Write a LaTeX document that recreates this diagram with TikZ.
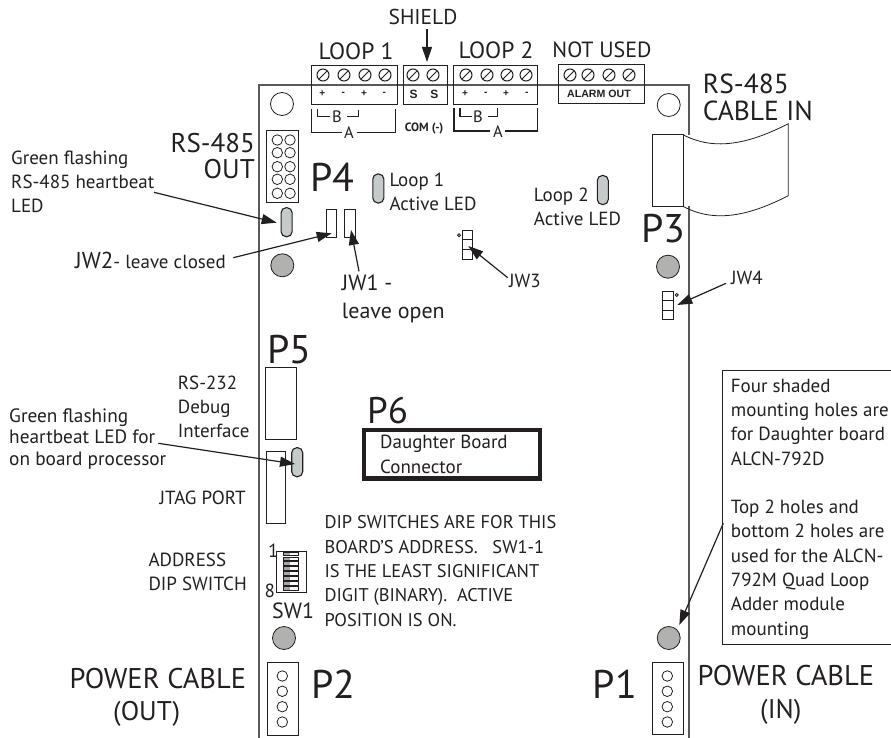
\documentclass[tikz,border=0pt]{standalone}
\usepackage{fontspec}
\setmainfont{PT Sans}
\newfontfamily\arialfont{Liberation Sans}
\usetikzlibrary{arrows.meta,positioning}
\definecolor{ink}{HTML}{231F20}
\definecolor{boardline}{HTML}{58595B}
\definecolor{ledfill}{HTML}{C4CBCA}
\definecolor{holefill}{HTML}{B1B1AF}
\tikzset{
  part/.style={draw=ink, line width=0.8pt, inner sep=0pt, outer sep=0pt},
  led/.style={part, fill=ledfill, line width=1.1pt, rounded corners=5pt, minimum width=11pt, minimum height=29pt},
  hole/.style={circle, draw=ink, line width=0.8pt, inner sep=0pt, outer sep=0pt, minimum size=23pt},
  pin/.style={circle, draw=ink, line width=0.8pt, inner sep=0pt, minimum size=10.5pt},
  jumper/.style={part, minimum width=10.6pt, minimum height=28.4pt},
  terminal/.style={part, minimum height=39pt},
  txt/.style={text=ink, inner sep=0pt, anchor=west, align=left, font=\fontsize{19}{24.3}\selectfont},
  bigtxt/.style={text=ink, inner sep=0pt, font=\fontsize{23.5}{26}\selectfont},
  portname/.style={text=ink, inner sep=0pt, font=\fontsize{40}{42}\selectfont},
  polarity/.style={text=ink, inner sep=0pt, font=\arialfont\bfseries\fontsize{10}{10}\selectfont},
  bracket/.style={draw=ink, line width=1.5pt},
  pointer/.style={draw=ink, line width=1.2pt, -{Triangle[length=15pt,width=10pt]}},
}
\begin{document}
\begin{tikzpicture}[x=1pt, y=-1pt]
    \useasboundingbox (0,0) rectangle (891,738);

    % board outline
    \coordinate (boardtl) at (259,85);
    \coordinate (boardtr) at (689,85);
    \coordinate (boardbl) at (259,738);
    \coordinate (boardbr) at (689,738);
    \coordinate (boardgap) at (689,134.7);
    \coordinate (boardgapend) at (689,206.3);
    \draw [boardline, line width=1.2pt] (boardbl) -- (boardtl) -- (boardtr) -- (boardgap);
    \draw [boardline, line width=1.2pt] (boardgapend) -- (boardbr);

    % terminal blocks
    \node [terminal, minimum width=86pt] (loopA) at (354,84.5) {};
    \node [terminal, minimum width=43.5pt, right=6.5pt of loopA] (shieldbox) {};
    \node [terminal, minimum width=84pt, right=6pt of shieldbox] (loopB) {};
    \node [terminal, minimum width=86pt] (alarm) at (601,83.5) {};
    \foreach \x in {323,344,365,385,413,433,466,487,507,526,570,588,609,629} {
        \draw [ink, line width=1pt] (\x,75) circle (6);
        \draw [ink, line width=1pt] (\x-4.2,79.2) -- (\x+4.2,70.8);
    }
    \foreach \x/\s in {322.3/+,343.3/-,364/+,384.3/-,465/+,485.7/-,506/+,526.7/-}
        \node [polarity] at (\x,94) {\s};
    \node [polarity, font=\arialfont\bfseries\fontsize{12}{12}\selectfont] (s1) at (413.7,94) {S};
    \node [polarity, font=\arialfont\bfseries\fontsize{12}{12}\selectfont] (s2) at (434.3,94) {S};
    \node [polarity, font=\arialfont\bfseries\fontsize{10.6}{11}\selectfont] (alarmout) at (599,94) {ALARM OUT};

    \node [bigtxt] (loop1lbl) at (356,51) {LOOP 1};
    \node [bigtxt] (loop2lbl) at (496,50) {LOOP 2};
    \node [bigtxt, font=\fontsize{22}{26}\selectfont] (notused) at (602,50) {NOT USED};
    \node [bigtxt, font=\fontsize{21.5}{26}\selectfont] (shield) at (423,17) {SHIELD};
    \coordinate (shieldtail) at (427,29);
    \coordinate (shieldtip) at (427,62);
    \draw [pointer] (shieldtail) -- (shieldtip);

    % B and A brackets
    \node [text=ink, inner sep=0pt, font=\fontsize{16.5}{16}\selectfont] (b1) at (337,117) {B};
    \node [text=ink, inner sep=0pt, font=\fontsize{16.5}{16}\selectfont] (a1) at (349,133) {A};
    \node [text=ink, inner sep=0pt, font=\fontsize{16.5}{16}\selectfont] (b2) at (478,117) {B};
    \node [text=ink, inner sep=0pt, font=\fontsize{16.5}{16}\selectfont] (a2) at (498,132) {A};
    \draw [bracket] (317.3,109) -- (317.3,116.3) -- (330,116.3);
    \draw [bracket] (347,116.3) -- (358.7,116.3) -- (358.7,110);
    \draw [bracket] (311.7,109) -- (311.7,132.3) -- (341.7,132.3);
    \draw [bracket] (356.7,132.3) -- (395.7,132.3) -- (395.7,109);
    \draw [bracket] (460,108) -- (460,116.3) -- (471.7,116.3);
    \draw [bracket] (488,116.3) -- (497.7,116.3) -- (497.7,108);
    \draw [bracket] (454,108) -- (454,131) -- (490,131);
    \draw [bracket] (505,131) -- (537.7,131) -- (537.7,108);
    \node [text=ink, inner sep=0pt, font=\bfseries\fontsize{12}{12}\selectfont] (com) at (424,129) {COM (-)};

    % mounting holes
    \node [hole] (holeTL) at (282,104) {};
    \node [hole] (holeTR) at (668.7,105) {};
    \node [hole, fill=holefill] (holeA) at (282.3,265.3) {};
    \node [hole, fill=holefill] (holeB) at (668,266.7) {};
    \node [hole, fill=holefill] (holeC) at (284,638) {};
    \node [hole, fill=holefill] (holeD) at (668.7,638) {};

    % P4 header
    \node [part, minimum width=31.3pt, minimum height=72pt] (p4hdr) at (282.3,166.7) {};
    \foreach \y in {140,152.7,166.7,179.3,193.3} {
        \node [pin] at (277.3,\y) {};
        \node [pin] at (290,\y) {};
    }
    \node [bigtxt, anchor=east, font=\fontsize{27}{27}\selectfont] (rsout) at (255,143) {RS-485};
    \node [bigtxt, anchor=east, font=\fontsize{27}{27}\selectfont] (rsoutb) at (255,169) {OUT};
    \node [portname, anchor=west] (p4) at (310,177) {P4};

    % LEDs and jumpers
    \node [led] (hbled) at (286.6,222.2) {};
    \node [led] (loop1led) at (378.3,188.5) {};
    \node [led] (loop2led) at (602.8,190) {};
    \node [led] (cpuled) at (297.2,462.2) {};
    \node [jumper] (jw2) at (331.5,223.5) {};
    \node [jumper] (jw1) at (350,223.5) {};
    \node [jumper] (jw3) at (467.3,245) {};
    \node [jumper] (jw4) at (668,305.5) {};
    \draw [ink, line width=0.8pt] (jw3.west |- 0,239.7) -- (jw3.east |- 0,239.7);
    \draw [ink, line width=0.8pt] (jw3.west |- 0,249.3) -- (jw3.east |- 0,249.3);
    \draw [ink, line width=0.8pt] (jw4.west |- 0,300.7) -- (jw4.east |- 0,300.7);
    \draw [ink, line width=0.8pt] (jw4.west |- 0,310) -- (jw4.east |- 0,310);
    \draw [ink, line width=0.9pt] (459,235.3) circle (1.5);
    \draw [ink, line width=0.9pt] (676.7,295) circle (1.5);

    % labels round the top half
    \node [txt] (hblbl) at (11,182) {Green flashing\\RS-485 heartbeat\\LED};
    \node [txt] (jw2lbl) at (75,260) {\fontsize{23}{24}\selectfont JW2\fontsize{19}{24}\selectfont- leave closed};
    \node [txt, font=\fontsize{22}{27.7}\selectfont] (jw1lbl) at (341.7,299) {JW1 -\\leave open};
    \node [txt] (loop1txt) at (389.3,191.5) {Loop 1\\Active LED};
    \node [txt] (loop2txt) at (533.7,207) {Loop 2\\Active LED};
    \node [txt] (jw3lbl) at (509,280.7) {JW3};
    \node [txt] (jw4lbl) at (731,278.3) {JW4};

    \coordinate (hbtail) at (154,192.3);
    \coordinate (hbtip) at (276.7,222.7);
    \coordinate (jw2tail) at (233.3,257.7);
    \coordinate (jw2tip) at (331.7,233.3);
    \coordinate (jw1tail) at (359,271.3);
    \coordinate (jw1tip) at (351,230);
    \coordinate (jw3tail) at (507.7,277.7);
    \coordinate (jw3tip) at (468.3,246);
    \coordinate (jw4tail) at (726,283.3);
    \coordinate (jw4tip) at (677.3,305);
    \draw [pointer] (hbtail) -- (hbtip);
    \draw [pointer] (jw2tail) -- (jw2tip);
    \draw [pointer] (jw1tail) -- (jw1tip);
    \draw [pointer] (jw3tail) -- (jw3tip);
    \draw [pointer] (jw4tail) -- (jw4tip);

    % cable in
    \node [part, minimum width=31pt, minimum height=71.6pt] (p3conn) at (667.5,170.5) {};
    \coordinate (ribbonend) at (788.3,123.7);
    \coordinate (ribbonlow) at (788.3,195.7);
    \draw [ink, line width=0.8pt] (p3conn.north east) .. controls (712,150) and (745,146) .. (ribbonend) -- (ribbonlow) .. controls (745,218) and (712,222) .. (p3conn.south east);
    \node [portname, anchor=west] (p3) at (641,229) {P3};
    \node [bigtxt, anchor=west, font=\fontsize{27.5}{27}\selectfont] (rsin) at (702.7,84.3) {RS-485};
    \node [bigtxt, anchor=west, font=\fontsize{27.5}{27}\selectfont] (cablein) at (702.7,111) {CABLE IN};

    % P5, JTAG and the left column
    \node [part, minimum width=31pt, minimum height=71.6pt] (p5conn) at (281.2,403.5) {};
    \node [part, minimum width=19.7pt, minimum height=72pt] (jtag) at (275.9,487.3) {};
    \node [portname, anchor=west] (p5) at (267,350) {P5};
    \node [txt] (rs232) at (177.7,407) {RS-232\\Debug\\Interface};
    \node [txt, font=\fontsize{19.3}{21.5}\selectfont] (cpulbl) at (9,439) {Green flashing\\heartbeat LED for\\on board processor};
    \node [txt] (jtaglbl) at (159.3,497.7) {JTAG PORT};
    \coordinate (cputail) at (158.3,443.3);
    \coordinate (cputip) at (295,464);
    \draw [pointer] (cputail) -- (cputip);

    % DIP switch
    \node [part, minimum width=29.7pt, minimum height=41.7pt] (dip) at (291.2,571.8) {};
    \foreach \n in {0,...,7} {
        \fill [ink!40] (283.7,552+4.9*\n) rectangle (289.7,555.6+4.9*\n);
        \draw [ink, line width=0.7pt] (283.7,552+4.9*\n) rectangle (298.7,555.6+4.9*\n);
    }
    \node [txt] (dipone) at (268,551) {1};
    \node [txt] (dipeight) at (264.5,591) {8};
    \node [txt, font=\fontsize{22}{22}\selectfont] (sw1) at (272,610.7) {SW1};
    \node [txt] (addrlbl) at (148.3,572) {ADDRESS\\DIP SWITCH};
    \node [txt, font=\fontsize{18.4}{24.3}\selectfont] (diptxt) at (324.3,571) {DIP SWITCHES ARE FOR THIS\\BOARD’S ADDRESS.~~ SW1-1\\IS THE LEAST SIGNIFICANT\\DIGIT (BINARY).~ ACTIVE\\POSITION IS ON.};

    % P6
    \node [portname, anchor=west, font=\fontsize{37}{37}\selectfont] (p6) at (367,411) {P6};
    \node [part, line width=4.5pt, minimum width=176pt, minimum height=48.5pt] (p6box) at (452,454.3) {};
    \node [txt] (p6txt) at (380,454.5) {Daughter Board\\Connector};

    % power connectors
    \node [part, minimum width=30.6pt, minimum height=72.7pt] (p2conn) at (283,698.7) {};
    \node [part, minimum width=31pt, minimum height=72.7pt] (p1conn) at (667.8,698.4) {};
    \foreach \y in {676,691.3,706.7,722} {
        \node [pin] at (282.3,\y) {};
        \node [pin] at (667.3,\y) {};
    }
    \node [portname, anchor=west] (p2) at (311,684) {P2};
    \node [portname, anchor=east] (p1) at (637,684) {P1};
    \node [bigtxt, anchor=west, font=\fontsize{28.5}{27}\selectfont] (pwrout) at (69.3,679) {POWER CABLE};
    \node [bigtxt, anchor=west, font=\fontsize{27}{27}\selectfont] (pwroutb) at (113,714) {(OUT)};
    \node [bigtxt, anchor=west, font=\fontsize{28.5}{27}\selectfont] (pwrin) at (697.3,676) {POWER CABLE};
    \node [bigtxt, anchor=west, font=\fontsize{27}{27}\selectfont] (pwrinb) at (760,712.3) {(IN)};

    % note box
    \coordinate (notetr) at (891,370);
    \coordinate (notetl) at (722.3,370);
    \coordinate (notebl) at (722.3,644.3);
    \coordinate (notebr) at (891,644.3);
    \draw [ink, line width=1pt] (notetr) -- (notetl) -- (notebl) -- (notebr);
    \node [txt] (notetxt) at (730.7,509) {Four shaded\\mounting holes are\\for Daughter board\\ALCN-792D\\[24.3pt]Top 2 holes and\\bottom 2 holes are\\used for the ALCN-\\792M Quad Loop\\Adder module\\mounting};
    \coordinate (notetail) at (723.3,523.3);
    \coordinate (notetip) at (679.3,625);
    \draw [pointer] (notetail) -- (notetip);
\end{tikzpicture}
\end{document}
